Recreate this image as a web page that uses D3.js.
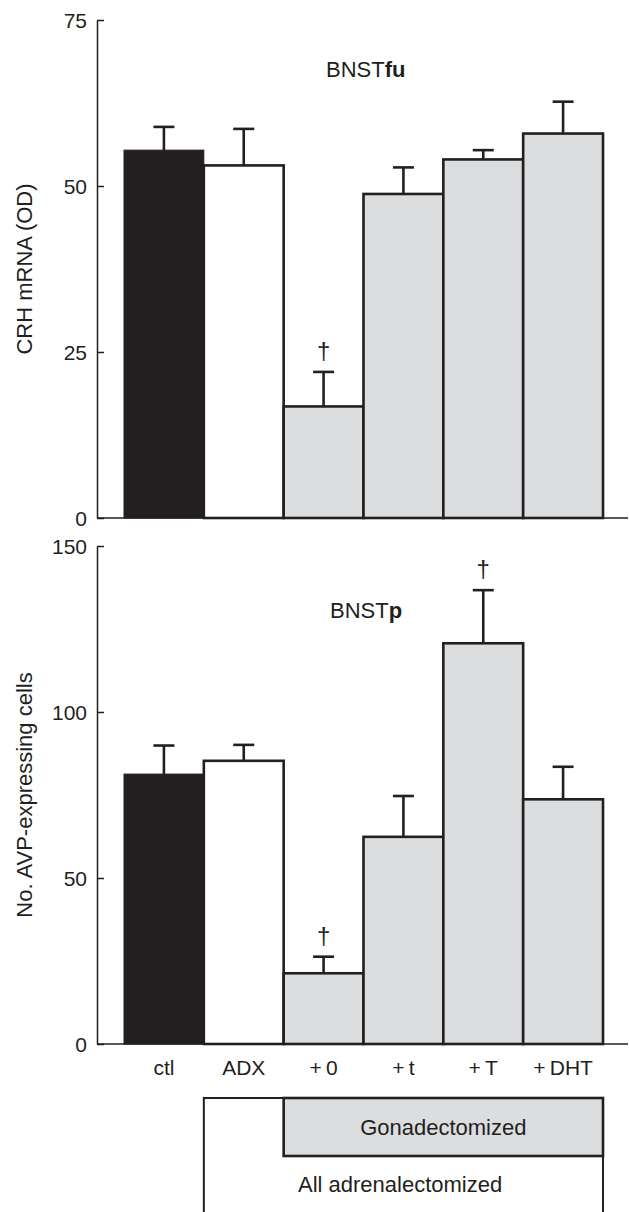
<!DOCTYPE html>
<html>
<head>
<meta charset="utf-8">
<script src="https://cdn.jsdelivr.net/npm/d3@7"></script>
<style>
  html, body { margin: 0; padding: 0; background: #fff; }
  svg { display: block; }
  text { font-family: "Liberation Sans", Arial, Helvetica, sans-serif; fill: #231f20; }
</style>
</head>
<body>
<svg id="chart" width="629" height="1212"></svg>
<script>
// ---- data ----
const categories = ["ctl", "ADX", "+0", "+t", "+T", "+DHT"];
const crhMean = [55.4, 53.1, 16.8, 48.8, 54.0, 57.9];
const crhSem  = [3.5, 5.5, 5.2, 4.0, 1.4, 4.8];
const crhSig  = [false, false, true, false, false, false];
const crhTicks = [0, 25, 50, 75];

const avpMean = [81.3, 85.3, 21.3, 62.4, 120.7, 73.7];
const avpSem  = [8.6, 4.8, 5.0, 12.3, 16.0, 9.8];
const avpSig  = [false, false, true, false, true, false];
const avpTicks = [0, 50, 100, 150];

const groupFill = ["black", "white", "grey", "grey", "grey", "grey"];
const legendLabels = ["Gonadectomized", "All adrenalectomized"];

// ---- style ----
const INK = "#231f20";
const GREY = "#dcdddf";
const fillFor = { black: INK, white: "#ffffff", grey: GREY };

const svg = d3.select("#chart");
svg.append("rect").attr("width", 629).attr("height", 1212).attr("fill", "#fff");

const axisX = 97;
const x = d3.scaleBand().domain(categories).range([124, 603]).paddingInner(0).paddingOuter(0);

function panel(opts) {
  const { mean, sem, sig, ticks, yTop, yBottom, maxV, title, titleBold, titleX, titleY, yLabel, showX } = opts;
  const y = d3.scaleLinear().domain([0, maxV]).range([yBottom, yTop]);
  const g = svg.append("g");

  // baseline
  g.append("line")
    .attr("x1", axisX).attr("x2", 628)
    .attr("y1", y(0)).attr("y2", y(0))
    .attr("stroke", INK).attr("stroke-width", 1.5);

  // bars
  const rows = categories.map((c, i) => ({ c, m: mean[i], s: sem[i], sig: sig[i], f: groupFill[i] }));
  g.selectAll("rect.bar").data(rows).enter().append("rect")
    .attr("class", "bar")
    .attr("x", d => x(d.c))
    .attr("width", x.bandwidth())
    .attr("y", d => y(d.m))
    .attr("height", d => y(0) - y(d.m))
    .attr("fill", d => fillFor[d.f])
    .attr("stroke", INK)
    .attr("stroke-width", d => d.f === "black" ? 1 : 2.6);

  // error bars (upper only)
  const cap = 21;
  const eb = g.selectAll("g.err").data(rows).enter().append("g").attr("class", "err");
  eb.append("line")
    .attr("x1", d => x(d.c) + x.bandwidth() / 2)
    .attr("x2", d => x(d.c) + x.bandwidth() / 2)
    .attr("y1", d => y(d.m))
    .attr("y2", d => y(d.m + d.s))
    .attr("stroke", INK).attr("stroke-width", 2.6);
  eb.append("line")
    .attr("x1", d => x(d.c) + x.bandwidth() / 2 - cap / 2)
    .attr("x2", d => x(d.c) + x.bandwidth() / 2 + cap / 2)
    .attr("y1", d => y(d.m + d.s))
    .attr("y2", d => y(d.m + d.s))
    .attr("stroke", INK).attr("stroke-width", 2.6);

  // daggers
  g.selectAll("text.dag").data(rows.filter(d => d.sig)).enter().append("text")
    .attr("class", "dag")
    .attr("x", d => x(d.c) + x.bandwidth() / 2)
    .attr("y", d => y(d.m + d.s) - 13)
    .attr("text-anchor", "middle")
    .attr("font-size", 24)
    .text("\u2020");

  // y axis
  const ax = d3.axisLeft(y).tickValues(ticks).tickSizeInner(-7).tickSizeOuter(0).tickPadding(10);
  const ag = g.append("g").attr("transform", `translate(${axisX},0)`).call(ax);
  ag.select(".domain").attr("stroke", INK).attr("stroke-width", 1.5);
  ag.selectAll(".tick line").attr("stroke", INK).attr("stroke-width", 1.5);
  ag.selectAll(".tick text")
    .attr("font-size", 21)
    .attr("font-family", "Liberation Sans, Arial, sans-serif")
    .attr("fill", INK)
    .attr("dy", "0.36em");

  // y label
  g.append("text")
    .attr("transform", `translate(32,${(yTop + yBottom) / 2}) rotate(-90)`)
    .attr("text-anchor", "middle")
    .attr("font-size", 22)
    .text(yLabel);

  // title
  const t = g.append("text").attr("x", titleX).attr("y", titleY).attr("font-size", 22);
  t.append("tspan").text(title);
  t.append("tspan").attr("font-weight", "bold").text(titleBold);

  if (showX) {
    const xa = d3.axisBottom(x).tickSize(0).tickPadding(16)
      .tickFormat(d => d.replace("+", "+\u2009"));
    const xg = g.append("g").attr("transform", `translate(0,${y(0)})`).call(xa);
    xg.select(".domain").remove();
    xg.selectAll(".tick text")
      .attr("font-size", 21)
      .attr("font-family", "Liberation Sans, Arial, sans-serif")
      .attr("fill", INK)
      .attr("dy", "0.71em");
  }
  return y;
}

panel({
  mean: crhMean, sem: crhSem, sig: crhSig, ticks: crhTicks,
  yTop: 20, yBottom: 518, maxV: 75,
  title: "BNST", titleBold: "fu", titleX: 326, titleY: 77,
  yLabel: "CRH mRNA (OD)", showX: false
});

panel({
  mean: avpMean, sem: avpSem, sig: avpSig, ticks: avpTicks,
  yTop: 546, yBottom: 1044, maxV: 150,
  title: "BNST", titleBold: "p", titleX: 330, titleY: 618,
  yLabel: "No. AVP-expressing cells", showX: true
});

// ---- legend boxes ----
const lg = svg.append("g");
const legTop = 1098;
const outerLeft = x("ADX");
const gonLeft = x("+0");
const right = x("+DHT") + x.bandwidth();
lg.append("path")
  .attr("d", `M${outerLeft},1215 V${legTop} H${right} V1215`)
  .attr("fill", "none").attr("stroke", INK).attr("stroke-width", 2);
lg.append("rect")
  .attr("x", gonLeft).attr("y", legTop)
  .attr("width", right - gonLeft).attr("height", 58)
  .attr("fill", GREY).attr("stroke", INK).attr("stroke-width", 2.6);
lg.append("text")
  .attr("x", (gonLeft + right) / 2).attr("y", 1135)
  .attr("text-anchor", "middle").attr("font-size", 22)
  .text(legendLabels[0]);
lg.append("text")
  .attr("x", 298).attr("y", 1192)
  .attr("font-size", 22)
  .text(legendLabels[1]);
</script>
</body>
</html>
